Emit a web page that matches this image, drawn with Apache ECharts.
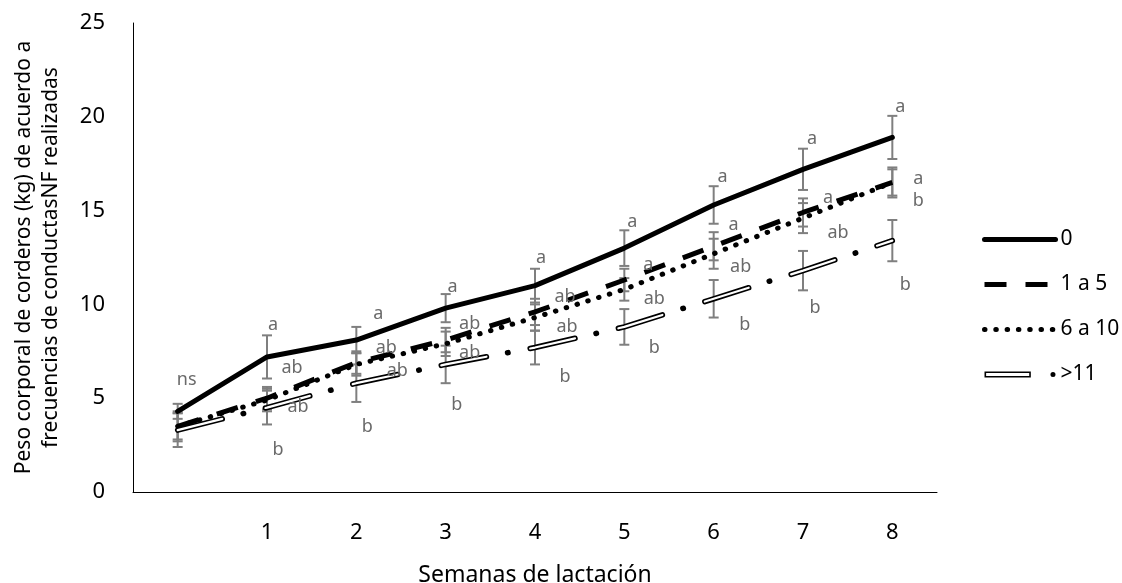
<!DOCTYPE html>
<html>
<head>
<meta charset="utf-8">
<script src="https://cdn.jsdelivr.net/npm/echarts@6/dist/echarts.min.js"></script>
<style>
  html, body { margin: 0; padding: 0; background: #fff; }
  #chart { width: 1122px; height: 583px; }
</style>
</head>
<body>
<div id="chart"></div>
<script>
// semanas (la semana 0 no lleva etiqueta en el eje)
var weeks = ['0', '1', '2', '3', '4', '5', '6', '7', '8'];
var weekLabels = ['', '1', '2', '3', '4', '5', '6', '7', '8'];
var yTicks = [0, 5, 10, 15, 20, 25];

// peso corporal (kg) por frecuencia de conductas NF
var peso0   = [4.3, 7.2, 8.1, 9.8, 11.0, 13.0, 15.3, 17.2, 18.9];
var peso1a5 = [3.5, 5.0, 6.9, 8.1, 9.6, 11.3, 13.1, 14.9, 16.5];
var peso6a10 = [3.5, 4.9, 6.8, 7.9, 9.3, 10.8, 12.7, 14.6, 16.5];
var peso11  = [3.3, 4.5, 5.8, 6.8, 7.7, 8.8, 10.3, 11.8, 13.4];

// error estandar
var ee0   = [0.4, 1.15, 0.7, 0.75, 0.9, 0.95, 1.0, 1.1, 1.15];
var ee1a5 = [0.7, 0.6, 0.6, 0.65, 0.7, 0.6, 0.75, 0.75, 0.7];
var ee6a10 = [0.8, 0.6, 0.6, 0.65, 0.7, 0.6, 0.8, 0.8, 0.8];
var ee11  = [0.9, 0.9, 1.0, 1.0, 0.9, 0.95, 1.0, 1.05, 1.1];

// letras de significancia
var letras0   = ['ns', 'a', 'a', 'a', 'a', 'a', 'a', 'a', 'a'];
var letras1a5 = ['', 'ab', 'ab', 'ab', 'ab', 'a', 'a', 'a', 'a'];
var letras6a10 = ['', 'ab', 'ab', 'ab', 'ab', 'ab', 'ab', 'ab', 'b'];
var letras11  = ['', 'b', 'b', 'b', 'b', 'b', 'b', 'b', 'b'];

// desplazamiento (px) de cada letra respecto a su punto
var off0   = [[9,-31],[6,-32],[22,-26],[7,-21],[6,-28],[8,-26],[9,-28],[9,-30],[8,-31]];
var off1a5 = [[0,0],[25,-30],[30,-15],[24,-16],[30,-15],[24,-15],[20,-21],[25,-15],[26,-4]];
var off6a10 = [[0,0],[31,7],[41,6],[24,9],[32,9],[30,9],[27,13],[35,15],[26,18]];
var off11  = [[0,0],[11,42],[11,44],[11,40],[30,29],[30,21],[31,26],[12,37],[13,44]];

var FONT = '"Noto Sans", "Open Sans", sans-serif';

function errData(vals, errs) {
  return vals.map(function (v, i) { return [i, v, errs[i]]; });
}

function renderErr(params, api) {
  var i = api.value(0), v = api.value(1), e = api.value(2);
  var top = api.coord([i, v + e]);
  var bot = api.coord([i, v - e]);
  var hw = 5;
  var st = { stroke: '#7f7f7f', lineWidth: 2 };
  return {
    type: 'group',
    children: [
      { type: 'line', shape: { x1: top[0], y1: top[1], x2: bot[0], y2: bot[1] }, style: st },
      { type: 'line', shape: { x1: top[0] - hw, y1: top[1], x2: top[0] + hw, y2: top[1] }, style: st },
      { type: 'line', shape: { x1: bot[0] - hw, y1: bot[1], x2: bot[0] + hw, y2: bot[1] }, style: st }
    ]
  };
}

function errSeries(vals, errs) {
  return {
    type: 'custom',
    silent: true,
    z: 1,
    renderItem: renderErr,
    encode: { x: 0, y: 1 },
    data: errData(vals, errs)
  };
}

function letterSeries(vals, letters, offs) {
  return {
    type: 'custom',
    silent: true,
    z: 5,
    encode: { x: 0, y: 1 },
    data: vals.map(function (v, i) { return [i, v]; }),
    renderItem: function (params, api) {
      var i = params.dataIndex;
      if (!letters[i]) return null;
      var p = api.coord([api.value(0), api.value(1)]);
      return {
        type: 'text',
        x: p[0] + offs[i][0],
        y: p[1] + offs[i][1],
        style: {
          text: letters[i],
          fill: '#6a6a6a',
          fontSize: 18,
          fontFamily: FONT,
          align: 'center',
          verticalAlign: 'middle'
        }
      };
    }
  };
}

var chart = echarts.init(document.getElementById('chart'), null, { renderer: 'canvas' });

var iconMayor11 = 'path://M0 2 L46 2 L46 8 L0 8 Z M1.6 3.6 L1.6 6.4 L44.4 6.4 L44.4 3.6 Z ' +
  'M65.5 5 A2.5 2.5 0 1 0 70.5 5 A2.5 2.5 0 1 0 65.5 5 Z';

var noSymbol = { opacity: 0 };

chart.setOption({
  animation: false,
  backgroundColor: '#fff',
  grid: { left: 133, right: 185, top: 23, bottom: 91, outerBoundsMode: 'none', containLabel: false },
  legend: {
    orient: 'vertical',
    left: 982,
    top: 229,
    padding: 0,
    itemWidth: 71,
    itemHeight: 14,
    itemGap: 24,
    textStyle: { fontSize: 21, lineHeight: 20, fontFamily: FONT, color: '#000', padding: [0, 0, 0, 0] },
    data: [
      { name: '0', itemStyle: noSymbol, lineStyle: { width: 5, cap: 'round' } },
      { name: '1 a 5', itemStyle: noSymbol, lineStyle: { width: 5, cap: 'butt' } },
      { name: '6 a 10', itemStyle: noSymbol, lineStyle: { width: 5, cap: 'round' } },
      { name: '>11', icon: iconMayor11, itemStyle: { color: '#000' } }
    ]
  },
  xAxis: {
    type: 'category',
    data: weeks,
    boundaryGap: true,
    axisLine: { lineStyle: { color: '#000', width: 1 } },
    axisTick: { show: false },
    axisLabel: {
      margin: 30,
      fontSize: 22,
      fontFamily: FONT,
      color: '#000',
      formatter: function (v, i) { return weekLabels[i]; }
    },
    name: 'Semanas de lactación',
    nameLocation: 'middle',
    nameGap: 72,
    nameTextStyle: { fontSize: 23, fontFamily: FONT, color: '#000' }
  },
  yAxis: {
    type: 'value',
    min: yTicks[0],
    max: yTicks[yTicks.length - 1],
    interval: 5,
    splitLine: { show: false },
    axisLine: { show: true, lineStyle: { color: '#000', width: 1 } },
    axisTick: { show: false },
    axisLabel: { margin: 28, fontSize: 22, fontFamily: FONT, color: '#000' },
    name: 'Peso corporal de corderos (kg) de acuerdo a\nfrecuencias de conductasNF realizadas',
    nameLocation: 'middle',
    nameGap: 68,
    nameTextStyle: { fontSize: 21, fontFamily: FONT, color: '#000', lineHeight: 27 }
  },
  series: [
    errSeries(peso0, ee0),
    errSeries(peso1a5, ee1a5),
    errSeries(peso6a10, ee6a10),
    errSeries(peso11, ee11),
    {
      name: '0', type: 'line', data: peso0, symbol: 'none', z: 3,
      itemStyle: { color: '#000' },
      lineStyle: { color: '#000', width: 5, cap: 'round', join: 'round' }
    },
    {
      name: '1 a 5', type: 'line', data: peso1a5, symbol: 'none', z: 3,
      itemStyle: { color: '#000' },
      lineStyle: { color: '#000', width: 5, type: [22, 19], cap: 'butt' }
    },
    {
      name: '6 a 10', type: 'line', data: peso6a10, symbol: 'none', z: 3,
      itemStyle: { color: '#000' },
      lineStyle: { color: '#000', width: 5, type: [0.5, 10.8], cap: 'round' }
    },
    {
      name: '>11', type: 'line', data: peso11, symbol: 'none', z: 3,
      itemStyle: { color: '#000' },
      lineStyle: { color: '#000', width: 5.5, type: [46, 21.5, 0.5, 22.5], cap: 'round' }
    },
    {
      name: '>11 interior', type: 'line', data: peso11, symbol: 'none', z: 4,
      itemStyle: { color: '#fff' },
      lineStyle: { color: '#fff', width: 2.2, type: [46, 44.5], cap: 'round' }
    },
    letterSeries(peso0, letras0, off0),
    letterSeries(peso1a5, letras1a5, off1a5),
    letterSeries(peso6a10, letras6a10, off6a10),
    letterSeries(peso11, letras11, off11)
  ]
});
</script>
</body>
</html>
